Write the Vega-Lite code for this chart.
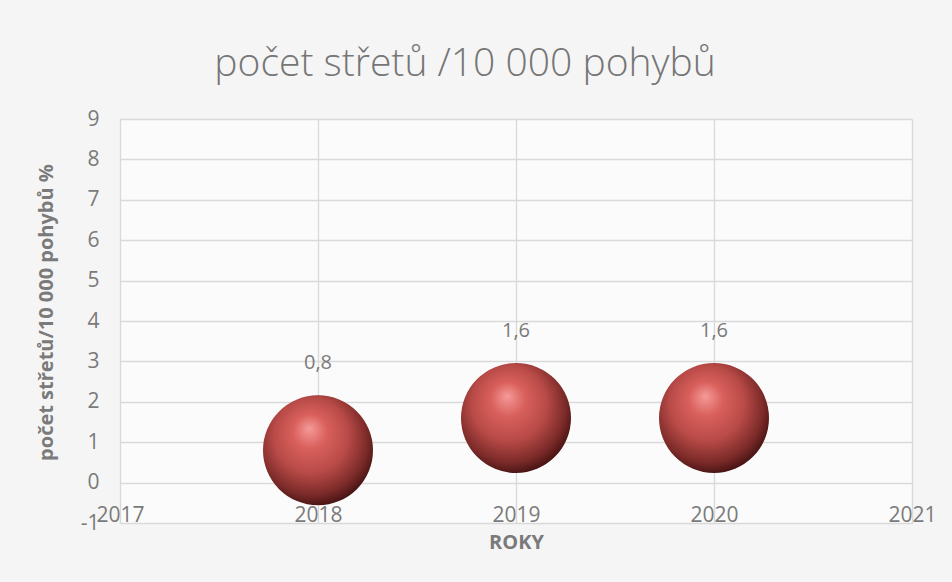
{
  "$schema": "https://vega.github.io/schema/vega-lite/v6.json",
  "autosize": {"type": "none"},
  "width": 792,
  "height": 404,
  "padding": {"left": 120, "top": 119, "right": 40, "bottom": 59},
  "background": "#f5f5f5",
  "title": {
    "text": "počet střetů /10 000 pohybů",
    "font": "Open Sans",
    "fontSize": 39,
    "fontWeight": 300,
    "color": "#767676",
    "anchor": "middle",
    "frame": "group",
    "baseline": "alphabetic",
    "dx": -51,
    "offset": -7
  },
  "config": {
    "locale": {"number": {"decimal": ",", "thousands": " ", "grouping": [3], "currency": ["", " Kč"], "minus": "-"}},
    "view": {"stroke": null, "fill": "#fbfbfb"},
    "font": "Open Sans"
  },
  "data": {
    "values": [
      {"rok": 2018, "hodnota": 0.8},
      {"rok": 2019, "hodnota": 1.6},
      {"rok": 2020, "hodnota": 1.6}
    ]
  },
  "encoding": {
    "x": {
      "field": "rok",
      "type": "quantitative",
      "scale": {"domain": [2017, 2021], "nice": false, "zero": false},
      "axis": {
        "title": "ROKY",
        "values": [2017, 2018, 2019, 2020, 2021],
        "format": "d",
        "domain": false,
        "ticks": false,
        "grid": true,
        "gridColor": "#d9d9d9",
        "gridWidth": 1.3,
        "labelFont": "Open Sans",
        "labelFontSize": 21,
        "labelColor": "#7a7a7a",
        "labelBaseline": "alphabetic",
        "labelPadding": -2,
        "labelFlush": false,
        "titleFont": "Open Sans",
        "titleFontSize": 20,
        "titleFontWeight": "bold",
        "titleColor": "#7a7a7a",
        "titlePadding": 7
      }
    },
    "y": {
      "field": "hodnota",
      "type": "quantitative",
      "scale": {"domain": [-1, 9], "nice": false, "zero": false},
      "axis": {
        "title": "počet střetů/10 000 pohybů %",
        "values": [-1, 0, 1, 2, 3, 4, 5, 6, 7, 8, 9],
        "format": "d",
        "domain": false,
        "ticks": false,
        "grid": true,
        "gridColor": "#d9d9d9",
        "gridWidth": 1.3,
        "labelFont": "Open Sans",
        "labelFontSize": 21,
        "labelColor": "#7a7a7a",
        "labelPadding": 21,
        "labelFlush": false,
        "titleFont": "Open Sans",
        "titleFontSize": 20,
        "titleFontWeight": "bold",
        "titleColor": "#7a7a7a",
        "titlePadding": 24,
        "titleY": 193
      }
    }
  },
  "layer": [
    {
      "mark": {
        "type": "point",
        "shape": "circle",
        "filled": true,
        "size": 12100,
        "opacity": 1,
        "fill": {
          "gradient": "radial",
          "x1": 0.42, "y1": 0.3, "r1": 0,
          "x2": 0.45, "y2": 0.42, "r2": 0.62,
          "stops": [
            {"offset": 0, "color": "#f59a98"},
            {"offset": 0.25, "color": "#d9605c"},
            {"offset": 0.55, "color": "#b84a47"},
            {"offset": 0.82, "color": "#7a2a28"},
            {"offset": 1, "color": "#3a0e0e"}
          ]
        }
      }
    },
    {
      "mark": {
        "type": "text",
        "dy": -87,
        "font": "Open Sans",
        "fontSize": 20,
        "color": "#7a7a7a"
      },
      "encoding": {
        "text": {"field": "hodnota", "type": "quantitative", "format": ".1f"}
      }
    }
  ]
}
